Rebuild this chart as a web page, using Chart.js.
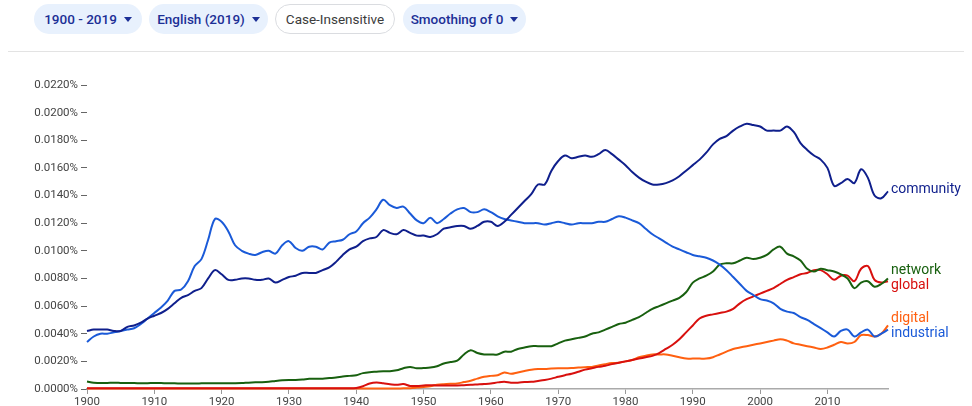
<!DOCTYPE html>
<html>
<head>
<meta charset="utf-8">
<script src="https://cdn.jsdelivr.net/npm/chart.js@4"></script>
<style>
  body { margin: 0; background: #fff; font-family: Roboto, "Noto Sans", sans-serif; }
  #wrap { position: relative; width: 972px; height: 406px; }
  #chartBox { position: absolute; left: 0; top: 0; width: 972px; height: 406px; }
  .pill {
    position: absolute; top: 4px; height: 30px; border-radius: 15px;
    background: #e8f1fd; color: #1c2f96; font-size: 13.5px; font-weight: 500;
    display: flex; align-items: center; justify-content: center; box-sizing: border-box;
  }
  .pill.plain { background: #fff; border: 1px solid #dadce0; color: #3c3c3c; font-weight: 400; }
  .caret {
    display: inline-block; margin-left: 7px; width: 0; height: 0;
    border-left: 4px solid transparent; border-right: 4px solid transparent; border-top: 5px solid #1c2f96;
  }
  #rule { position: absolute; left: 8px; top: 51px; width: 956px; height: 1px; background: #e3e3e3; }
</style>
</head>
<body>
<div id="wrap">
  <div id="chartBox"><canvas id="ngramChart"></canvas></div>
  <div class="pill" style="left:34px;width:108px;">1900 - 2019<span class="caret"></span></div>
  <div class="pill" style="left:149px;width:119px;">English (2019)<span class="caret"></span></div>
  <div class="pill plain" style="left:275px;width:120px;">Case-Insensitive</div>
  <div class="pill" style="left:403px;width:123px;">Smoothing of 0<span class="caret"></span></div>
  <div id="rule"></div>
</div>
<script>
// years 1900..2019, one value per year (percent)
const firstYear = 1900;
const lastYear = 2019;
const xTicks = [1900, 1910, 1920, 1930, 1940, 1950, 1960, 1970, 1980, 1990, 2000, 2010];

const community = [
  0.0042, 0.0043, 0.0043, 0.0043, 0.0042, 0.0042, 0.0045, 0.0046, 0.0048, 0.0051,
  0.0053, 0.0055, 0.0058, 0.0062, 0.0066, 0.0068, 0.0071, 0.0073, 0.0080, 0.0086,
  0.0083, 0.0079, 0.0079, 0.0080, 0.0080, 0.0079, 0.0079, 0.0080, 0.0077, 0.0079,
  0.0081, 0.0082, 0.0084, 0.0084, 0.0084, 0.0086, 0.0088, 0.0092, 0.0097, 0.0101,
  0.0103, 0.0107, 0.0109, 0.0110, 0.0115, 0.0113, 0.0112, 0.0115, 0.0113, 0.0111,
  0.0111, 0.0110, 0.0112, 0.0116, 0.0117, 0.0118, 0.0118, 0.0116, 0.0118, 0.0121,
  0.0121, 0.0118, 0.0121, 0.0126, 0.0131, 0.0136, 0.0141, 0.0148, 0.0148, 0.0158,
  0.0165, 0.0169, 0.0167, 0.0168, 0.0169, 0.0168, 0.0170, 0.0173, 0.0170, 0.0166,
  0.0162, 0.0157, 0.0153, 0.0150, 0.0148, 0.0148, 0.0149, 0.0151, 0.0154, 0.0158,
  0.0162, 0.0166, 0.0171, 0.0177, 0.0181, 0.0183, 0.0187, 0.0190, 0.0192, 0.0191,
  0.0190, 0.0187, 0.0187, 0.0187, 0.0190, 0.0186, 0.0178, 0.0173, 0.0169, 0.0166,
  0.0160, 0.0147, 0.0149, 0.0152, 0.0149, 0.0159, 0.0153, 0.0140, 0.0138, 0.0143
];
const industrial = [
  0.0034, 0.0038, 0.0040, 0.0040, 0.0041, 0.0042, 0.0043, 0.0044, 0.0047, 0.0051,
  0.0055, 0.0059, 0.0064, 0.0071, 0.0072, 0.0078, 0.0089, 0.0094, 0.0108, 0.0123,
  0.0121, 0.0114, 0.0104, 0.0100, 0.0098, 0.0097, 0.0099, 0.0100, 0.0098, 0.0104,
  0.0107, 0.0102, 0.0100, 0.0103, 0.0103, 0.0101, 0.0106, 0.0107, 0.0108, 0.0112,
  0.0114, 0.0120, 0.0124, 0.0130, 0.0137, 0.0133, 0.0131, 0.0132, 0.0127, 0.0122,
  0.0120, 0.0124, 0.0120, 0.0123, 0.0127, 0.0130, 0.0131, 0.0128, 0.0128, 0.0130,
  0.0128, 0.0125, 0.0123, 0.0122, 0.0121, 0.0120, 0.0120, 0.0120, 0.0119, 0.0120,
  0.0121, 0.0120, 0.0119, 0.0120, 0.0120, 0.0120, 0.0121, 0.0121, 0.0123, 0.0125,
  0.0124, 0.0122, 0.0120, 0.0116, 0.0112, 0.0109, 0.0106, 0.0103, 0.0101, 0.0099,
  0.0097, 0.0096, 0.0095, 0.0093, 0.0090, 0.0086, 0.0081, 0.0076, 0.0071, 0.0068,
  0.0065, 0.0064, 0.0062, 0.0058, 0.0056, 0.0055, 0.0052, 0.0050, 0.0047, 0.0044,
  0.0041, 0.0038, 0.0042, 0.0043, 0.0038, 0.0041, 0.0043, 0.0038, 0.0040, 0.0043
];
const network = [
  0.00055, 0.00045, 0.00044, 0.00044, 0.00045, 0.00044, 0.00043, 0.00043, 0.00042, 0.00042,
  0.00044, 0.00043, 0.00041, 0.00041, 0.00040, 0.00040, 0.00040, 0.00041, 0.00042, 0.00042,
  0.00042, 0.00042, 0.00042, 0.00043, 0.00046, 0.00048, 0.00049, 0.00052, 0.00058, 0.00063,
  0.00066, 0.00065, 0.00068, 0.00074, 0.00075, 0.00075, 0.00079, 0.00083, 0.00090, 0.00095,
  0.00100, 0.00115, 0.00122, 0.00125, 0.00128, 0.00128, 0.00135, 0.00150, 0.00160, 0.00150,
  0.00152, 0.00155, 0.00165, 0.00185, 0.00195, 0.00205, 0.00250, 0.00280, 0.00260, 0.00250,
  0.00250, 0.00250, 0.00270, 0.00270, 0.00290, 0.00300, 0.00310, 0.00310, 0.00310, 0.00310,
  0.0033, 0.0035, 0.0036, 0.0037, 0.0038, 0.0040, 0.0041, 0.0043, 0.0045, 0.0047,
  0.0048, 0.0050, 0.0052, 0.0055, 0.0058, 0.0060, 0.0062, 0.0064, 0.0066, 0.0070,
  0.0077, 0.0080, 0.0082, 0.0085, 0.0090, 0.0091, 0.0091, 0.0093, 0.0095, 0.0094,
  0.0095, 0.0097, 0.0101, 0.0103, 0.0098, 0.0096, 0.0093, 0.0087, 0.0085, 0.0087,
  0.0086, 0.0085, 0.0083, 0.0080, 0.0073, 0.0077, 0.0078, 0.0074, 0.0076, 0.0080
];
const global = [
  0.00005, 0.00005, 0.00005, 0.00005, 0.00005, 0.00005, 0.00005, 0.00005, 0.00005, 0.00005,
  0.00005, 0.00005, 0.00005, 0.00005, 0.00005, 0.00005, 0.00005, 0.00005, 0.00005, 0.00005,
  0.00005, 0.00005, 0.00005, 0.00005, 0.00005, 0.00005, 0.00005, 0.00005, 0.00005, 0.00005,
  0.00005, 0.00005, 0.00005, 0.00005, 0.00005, 0.00005, 0.00005, 0.00005, 0.00005, 0.00005,
  0.00008, 0.00020, 0.00040, 0.00047, 0.00042, 0.00035, 0.00030, 0.00036, 0.00022, 0.00022,
  0.00025, 0.00028, 0.00025, 0.00025, 0.00025, 0.00026, 0.00028, 0.00030, 0.00033, 0.00036,
  0.00040, 0.00048, 0.00053, 0.00046, 0.00046, 0.00050, 0.00052, 0.00058, 0.00065, 0.00075,
  0.00088, 0.0010, 0.0011, 0.00125, 0.0014, 0.0015, 0.0016, 0.00168, 0.0018, 0.0019,
  0.0020, 0.0021, 0.0022, 0.0023, 0.0024, 0.0026, 0.0029, 0.0032, 0.0036, 0.0041,
  0.0046, 0.0051, 0.0053, 0.0054, 0.0055, 0.0056, 0.0058, 0.0062, 0.0065, 0.0067,
  0.0069, 0.0071, 0.0073, 0.0076, 0.0079, 0.0081, 0.0083, 0.0084, 0.0086, 0.0086,
  0.0083, 0.0079, 0.0082, 0.0082, 0.0078, 0.0087, 0.0089, 0.0079, 0.0077, 0.0078
];
const digital = [
  0.00003, 0.00003, 0.00003, 0.00003, 0.00003, 0.00003, 0.00003, 0.00003, 0.00003, 0.00003,
  0.00003, 0.00003, 0.00003, 0.00003, 0.00003, 0.00003, 0.00003, 0.00003, 0.00003, 0.00003,
  0.00003, 0.00003, 0.00003, 0.00003, 0.00003, 0.00003, 0.00003, 0.00003, 0.00003, 0.00003,
  0.00003, 0.00003, 0.00003, 0.00003, 0.00003, 0.00003, 0.00003, 0.00003, 0.00003, 0.00003,
  0.00003, 0.00003, 0.00003, 0.00003, 0.00003, 0.00003, 0.00003, 0.00005, 0.00006, 0.00010,
  0.00015, 0.00020, 0.00030, 0.00035, 0.00038, 0.00040, 0.00050, 0.00060, 0.00075, 0.00088,
  0.00095, 0.0010, 0.0012, 0.0011, 0.0012, 0.0013, 0.0014, 0.00145, 0.00145, 0.00148,
  0.0015, 0.0015, 0.00152, 0.00155, 0.00158, 0.0016, 0.0017, 0.0018, 0.00188, 0.0019,
  0.0020, 0.0021, 0.0023, 0.0024, 0.0025, 0.0025, 0.0025, 0.0024, 0.0023, 0.0022,
  0.0022, 0.0022, 0.0022, 0.0023, 0.0025, 0.0027, 0.0029, 0.0030, 0.0031, 0.0032,
  0.0033, 0.0034, 0.0035, 0.0036, 0.0035, 0.0033, 0.0032, 0.0031, 0.0030, 0.0029,
  0.0030, 0.0032, 0.0034, 0.0033, 0.0034, 0.0039, 0.0039, 0.0038, 0.0040, 0.0046
];

const seriesNames = ["community", "industrial", "network", "global", "digital"];
const seriesColors = ["#0f1f8c", "#1a5ad8", "#18600f", "#d8100e", "#ff6010"];
const seriesValues = [community, industrial, network, global, digital];

function toPoints(values) {
  return values.map(function (v, i) { return { x: firstYear + i, y: v }; });
}

// draw the word labels at the right end of each line
const endLabels = {
  id: "endLabels",
  afterDatasetsDraw(chart) {
    const ctx = chart.ctx;
    const area = chart.chartArea;
    let items = chart.data.datasets.map(function (ds, i) {
      const pts = chart.getDatasetMeta(i).data;
      return { text: ds.label, color: ds.borderColor, y: pts[pts.length - 1].y };
    });
    items.sort(function (a, b) { return a.y - b.y; });
    // push overlapping labels apart
    const gap = 15;
    let groups = [];
    items.forEach(function (it) {
      const g = groups[groups.length - 1];
      if (g && it.y - g.items[g.items.length - 1].y < gap) g.items.push(it);
      else groups.push({ items: [it] });
    });
    groups.forEach(function (g) {
      const mean = g.items.reduce(function (s, it) { return s + it.y; }, 0) / g.items.length;
      const start = mean - (g.items.length - 1) * gap / 2;
      g.items.forEach(function (it, k) { it.ly = start + k * gap; });
    });
    ctx.save();
    ctx.font = "14px Roboto";
    ctx.textBaseline = "middle";
    items.forEach(function (it) {
      ctx.fillStyle = it.color;
      ctx.fillText(it.text, area.right + 3, it.ly - 2);
    });
    ctx.restore();
  }
};

const ctx = document.getElementById("ngramChart").getContext("2d");

new Chart(ctx, {
  type: "line",
  data: {
    datasets: seriesNames.map(function (name, i) {
      return {
        label: name,
        data: toPoints(seriesValues[i]),
        borderColor: seriesColors[i],
        borderWidth: 2,
        pointRadius: 0,
        tension: 0.35,
        clip: 4,
      };
    }),
  },
  options: {
    responsive: true,
    maintainAspectRatio: false,
    animation: false,
    layout: { padding: { top: 85, right: 84, left: 0, bottom: 0 } },
    plugins: { legend: { display: false }, tooltip: { enabled: false } },
    scales: {
      x: {
        type: "linear",
        min: firstYear,
        max: lastYear,
        afterBuildTicks(scale) {
          scale.ticks = xTicks.map(function (v) { return { value: v }; });
        },
        afterFit(scale) { scale.height = 17; },
        border: { display: true, color: "#aaaaaa", width: 1.5 },
        grid: { drawOnChartArea: false, drawTicks: true, tickLength: 5, color: "#999999" },
        ticks: {
          padding: 1,
          maxRotation: 0,
          color: "#444444",
          font: { family: "Roboto", size: 11.5 },
          callback: function (v) { return String(v); },
        },
      },
      y: {
        min: 0,
        max: 0.022,
        afterFit(scale) { scale.width = 87; },
        border: { display: false },
        grid: { drawOnChartArea: false, drawTicks: true, tickLength: 6, color: "#666666" },
        ticks: {
          stepSize: 0.002,
          padding: 3,
          color: "#444444",
          font: { family: "Roboto", size: 11.5 },
          callback: function (v) { return v.toFixed(4) + "%"; },
        },
      },
    },
  },
  plugins: [endLabels],
});
</script>
</body>
</html>
